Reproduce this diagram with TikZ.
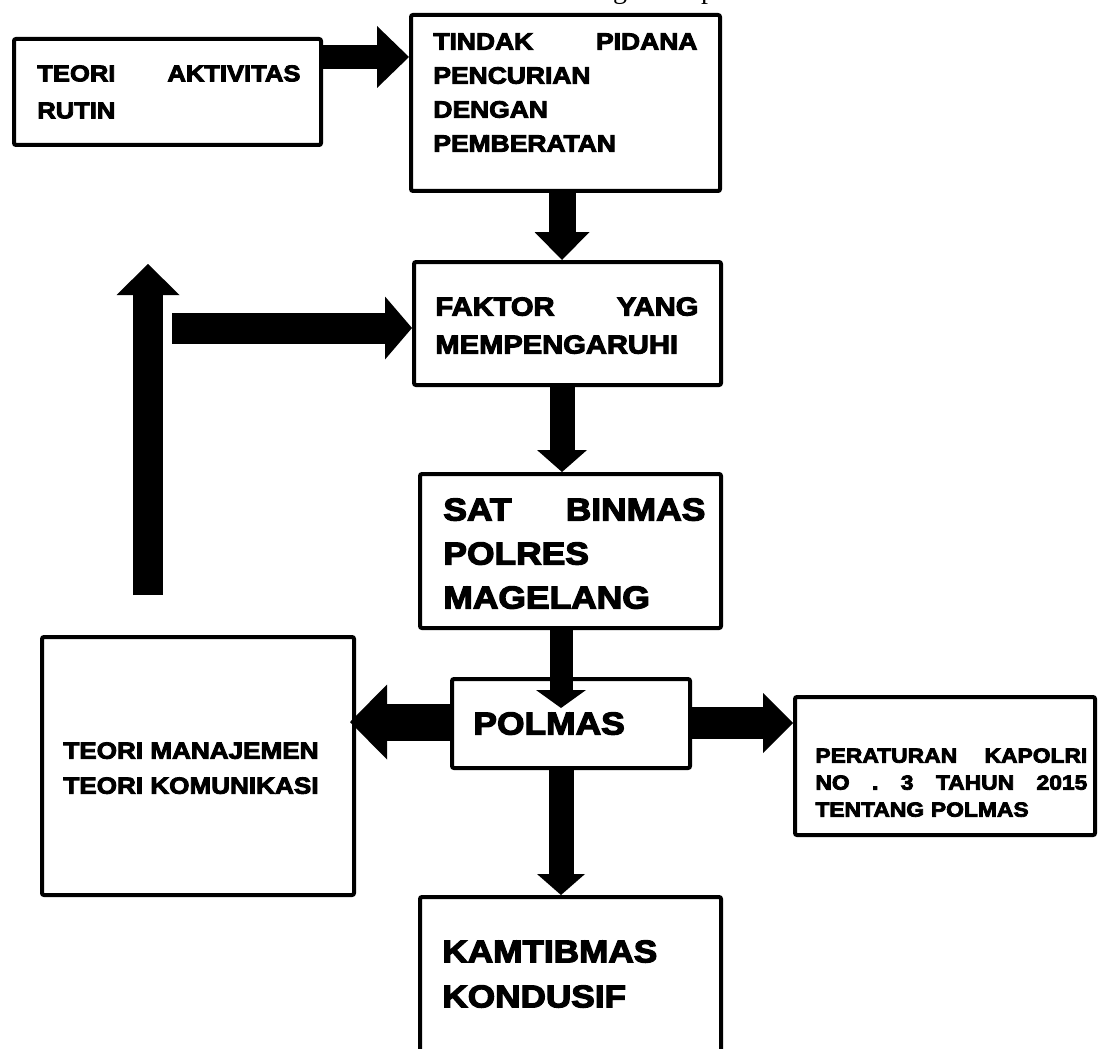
\documentclass[tikz,border=0pt]{standalone}
\usepackage{fontspec}
\usepackage{tikz}
\usetikzlibrary{arrows.meta,calc}
\setmainfont{Liberation Serif}
\newfontfamily\heavy{Liberation Sans Bold}[FakeBold=4,FakeStretch=1.12]
\newcommand\fs[2]{\heavy\fontsize{#1}{#2}\selectfont}

\begin{document}
\begin{tikzpicture}[x=0.5pt,y=-0.5pt,
  box/.style={draw,line width=2pt,rounded corners=1pt,inner sep=0pt},
  txt/.style={anchor=north west,inner sep=0pt,align=left},
  arr/.style n args={3}{line width=#1,-{Triangle[length=#2,width=#3,line width=0pt]}}]
\useasboundingbox (0,0) rectangle (1101,1048);

\node[anchor=base] (capg) at (620,-1) {\fontsize{14}{16}\selectfont g};
\node[anchor=base] (capp) at (708,-1) {\fontsize{14}{16}\selectfont p};

\node[box,minimum width=153.5pt,minimum height=53pt] (rutin) at (167.5,92) {};
\node[box,minimum width=154.5pt,minimum height=88pt] (pidana) at (565.5,103) {};
\node[box,minimum width=153.5pt,minimum height=61.5pt] (faktor) at (567.5,323.5) {};
\node[box,minimum width=150.5pt,minimum height=77pt] (binmas) at (570.5,551) {};
\node[box,minimum width=119pt,minimum height=44.5pt] (polmas) at (571,723.5) {};
\node[box,minimum width=150pt,minimum height=69pt] (perkap) at (945,766) {};
\node[box,minimum width=156pt,minimum height=129pt] (teori) at (198,766) {};
\node[box,minimum width=150.5pt,minimum height=91.5pt] (kamtib) at (570.5,988.5) {};

\node[txt,text width=131.5pt,font=\fs{11.4pt}{18.5pt}] (trutin) at (37,65)
  {TEORI\hfill AKTIVITAS\\RUTIN};
\node[txt,text width=132pt,font=\fs{11.8pt}{17pt}] (tpidana) at (433,33)
  {TINDAK\hfill PIDANA\\PENCURIAN\\DENGAN\\PEMBERATAN};
\node[txt,text width=131.5pt,font=\fs{13pt}{19pt}] (tfaktor) at (435,297)
  {FAKTOR\hfill YANG\\MEMPENGARUHI};
\node[txt,text width=131pt,font=\fs{15.8pt}{22pt}] (tbinmas) at (443,498)
  {SAT\hfill BINMAS\\POLRES\\MAGELANG};
\node[txt,font=\fs{15.8pt}{22pt}] (tpolmas) at (473,712) {POLMAS};
\node[txt,text width=136pt,font=\fs{10.2pt}{13.5pt}] (tperkap) at (815,748)
  {PERATURAN\hfill KAPOLRI\\NO\hfill.\hfill 3\hfill TAHUN\hfill 2015\\TENTANG POLMAS};
\node[txt,font=\fs{11.65pt}{17.5pt}] (tteori) at (63,742)
  {TEORI MANAJEMEN\\TEORI KOMUNIKASI};
\node[txt,font=\fs{15.7pt}{22.5pt}] (tkamtib) at (442,940)
  {KAMTIBMAS\\KONDUSIF};

\coordinate (upfoot) at (148,595);
\coordinate (uptip) at (148,264);
\coordinate (sidefoot) at (172,328);

\draw[arr={12pt}{16pt}{31pt}] (rutin.east |- 0,57) -- (pidana.west |- 0,57);
\draw[arr={13.5pt}{14pt}{27.5pt}] (pidana.south -| 562,0) -- (faktor.north -| 562,0);
\draw[arr={15.5pt}{13.5pt}{31.5pt}] (sidefoot) -- (faktor.west |- sidefoot);
\draw[arr={15pt}{15.5pt}{31.5pt}] (upfoot) -- (uptip);
\draw[arr={12.5pt}{11pt}{25pt}] (faktor.south -| 562,0) -- (binmas.north -| 562,0);
\draw[arr={11.5pt}{9pt}{25pt}] ($(binmas.south -| 561,0)+(0,-4)$) -- ($(polmas.north -| 561,0)+(0,31)$);
\draw[arr={18.5pt}{18.5pt}{37.5pt}] (polmas.west |- 0,722) -- ($(teori.east |- 0,722)+(-6,0)$);
\draw[arr={16pt}{15pt}{30pt}] (polmas.east |- 0,723) -- (perkap.west |- 0,723);
\draw[arr={12.5pt}{10.5pt}{24pt}] (polmas.south -| 561,0) -- (kamtib.north -| 561,0);
\end{tikzpicture}
\end{document}
